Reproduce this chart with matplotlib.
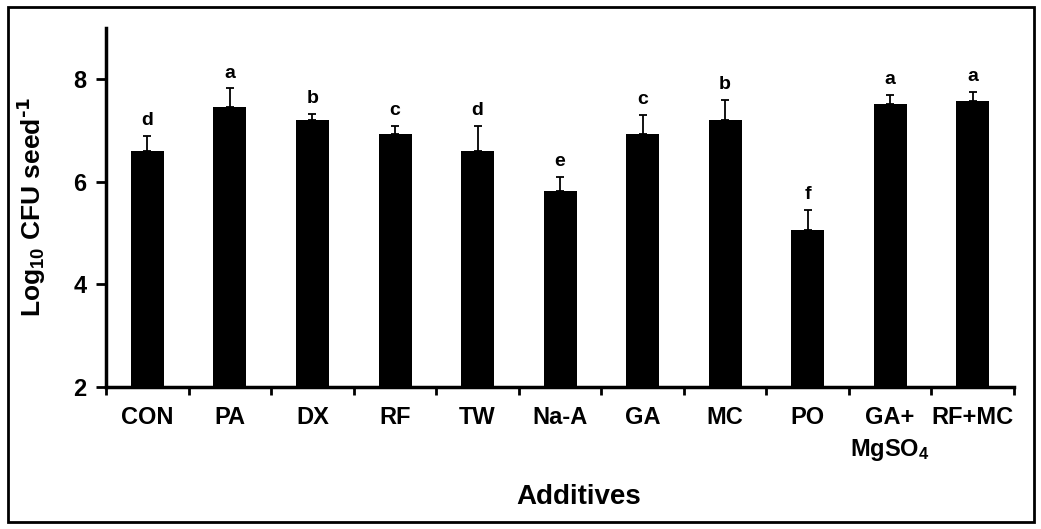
import matplotlib
matplotlib.use('Agg')
import matplotlib.pyplot as plt
from matplotlib.patches import Rectangle

categories = ['CON', 'PA', 'DX', 'RF', 'TW', 'Na-A', 'GA', 'MC', 'PO',
              'GA+\nMgSO$_4$', 'RF+MC']
means = [6.60, 7.45, 7.20, 6.94, 6.60, 5.81, 6.94, 7.20, 5.06, 7.52, 7.57]
errors = [0.29, 0.37, 0.13, 0.15, 0.49, 0.28, 0.36, 0.40, 0.39, 0.17, 0.18]
letters = ['d', 'a', 'b', 'c', 'd', 'e', 'c', 'b', 'f', 'a', 'a']

plt.rcParams['font.family'] = 'Liberation Sans'
plt.rcParams['font.weight'] = 'bold'
plt.rcParams['mathtext.default'] = 'regular'

fig = plt.figure(figsize=(10.41, 5.29), dpi=100)
ax = fig.add_axes([0.102, 0.269, 0.872, 0.678])

x = range(len(categories))
ax.bar(x, means, width=0.4, color='black', zorder=2)
ax.errorbar(x, means, yerr=[[0] * len(errors), errors], fmt='none',
            ecolor='black', elinewidth=1.3, capsize=3, capthick=1.3, zorder=1)
for i in x:
    ax.annotate(letters[i], (i, means[i] + errors[i]), xytext=(0, 5),
                textcoords='offset points', ha='center', va='bottom',
                fontsize=14, fontweight='bold')

ax.set_ylim(2, 9)
ax.set_xlim(-0.5, len(categories) - 0.5)
ax.set_yticks([2, 4, 6, 8])
ax.set_xticks([i - 0.5 for i in range(len(categories) + 1)])
ax.set_xticklabels([])
ax.set_xticks(list(x), minor=True)
ax.set_xticklabels(categories, minor=True, fontsize=17, fontweight='bold',
                   linespacing=1.4)
ax.tick_params(axis='x', which='minor', length=0, pad=14)
ax.tick_params(axis='x', which='major', length=6, width=2, direction='out')
ax.tick_params(axis='y', length=7, width=2, direction='out', labelsize=17, pad=7)
for lab in ax.get_yticklabels():
    lab.set_fontweight('bold')

ax.spines['top'].set_visible(False)
ax.spines['right'].set_visible(False)
ax.spines['left'].set_linewidth(2.5)
ax.spines['bottom'].set_linewidth(2.5)

ax.set_ylabel(r'Log$_{10}$ CFU seed$^{\text{-1}}$', fontsize=19, fontweight='bold')
ax.yaxis.set_label_coords(-0.064, 0.5)
ax.set_xlabel('Additives', fontsize=20, fontweight='bold')
ax.xaxis.set_label_coords(0.52, -0.272)

fig.patches.append(Rectangle((0.008, 0.014), 0.985, 0.973, transform=fig.transFigure,
                             fill=False, edgecolor='black', linewidth=2))

fig.savefig('out.png', dpi=100)
